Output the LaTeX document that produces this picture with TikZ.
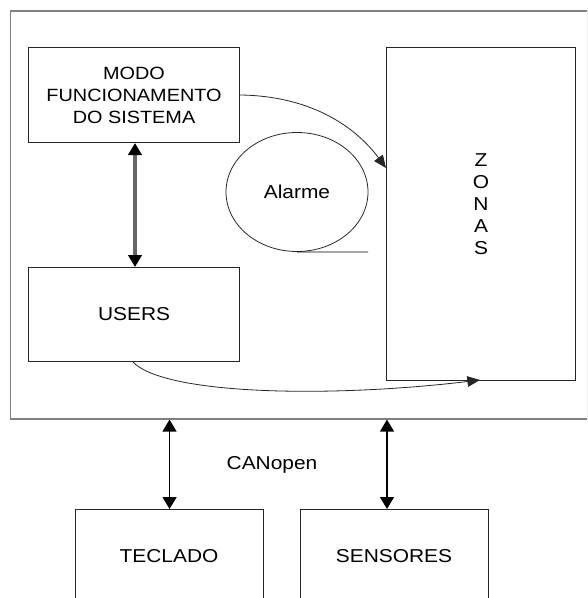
\documentclass[tikz,border=0pt]{standalone}
\usepackage{fontspec}
\setmainfont{Liberation Sans}[FakeStretch=1.12]
\usetikzlibrary{arrows.meta,shapes.geometric}
\begin{document}
\begin{tikzpicture}[x=0.75pt,y=-0.75pt,
  box/.style={draw=black!85,line width=0.8pt,inner sep=0pt,anchor=north west},
  lbl/.style={font=\fontsize{14}{16.5}\selectfont,align=center,inner sep=0pt},
  tip/.style={-{Triangle[length=9.5pt,width=8pt]}},
  tips/.style={{Triangle[length=9pt,width=10.5pt]}-{Triangle[length=9pt,width=10.5pt]}},
  link/.style={line width=0.6pt,black!85}]
\useasboundingbox (0,0) rectangle (587,598);
\clip (0,0) rectangle (587,598);

% system frame
\node[draw=black!50,line width=1.2pt,inner sep=0pt,anchor=north west,
  minimum width=577*0.75pt,minimum height=408*0.75pt] (sys) at (9.5,10) {};

% blocks inside the system
\node[box,minimum width=211*0.75pt,minimum height=95*0.75pt] (modo) at (28,47) {};
\node[lbl,font=\fontsize{13.3}{16.5}\selectfont] at (modo.center) {MODO\\FUNCIONAMENTO\\DO SISTEMA};

\node[box,minimum width=211*0.75pt,minimum height=94*0.75pt] (users) at (28,267) {};
\node[lbl] at (users.center) {USERS};

\node[box,minimum width=189*0.75pt,minimum height=333*0.75pt] (zonas) at (386,47) {};
\node[lbl] at (481,204) {Z\\O\\N\\A\\S};

\node[draw=black!85,line width=0.6pt,ellipse,minimum width=142*0.75pt,
  minimum height=119*0.75pt,inner sep=0pt] (alarme) at (297,192) {};
\node[lbl] at (alarme.center) {Alarme};
\coordinate (alend) at (368,252);
\draw[line width=0.6pt,black] (alarme.south) -- (alend);

% external devices (open at the bottom)
\node[box,minimum width=188*0.75pt,minimum height=120*0.75pt] (tec) at (75,509) {};
\node[lbl] at (169,556) {TECLADO};
\node[box,minimum width=188*0.75pt,minimum height=120*0.75pt] (sen) at (300,509) {};
\node[lbl] at (394,556) {SENSORES};

\node[lbl] (can) at (272,465) {CANopen};

% anchor points for the connectors
\coordinate (xmu) at (135,0);
\coordinate (xsen) at (387,0);
\coordinate (ymodo) at (0,95);
\coordinate (xusr) at (133,0);
\coordinate (zin) at (386,168);
\coordinate (zbot) at (480,380);

% connectors
\draw[line width=3pt,black!60,
  {Triangle[length=9pt,width=10pt,color=black,fill=black]}-{Triangle[length=9pt,width=10pt,color=black,fill=black]}]
  (modo.south -| xmu) -- (users.north -| xmu);

\draw[link,tip] (modo.east |- ymodo) .. controls (315,96) and (358,130) .. (zin);

\draw[link,tip] (users.south -| xusr) .. controls (165,395) and (330,398) .. (zbot);

\draw[line width=1pt,black,tips] (sys.south -| tec.north) -- (tec.north);
\draw[line width=1pt,black,tips] (sys.south -| xsen) -- (sen.north -| xsen);
\end{tikzpicture}
\end{document}
